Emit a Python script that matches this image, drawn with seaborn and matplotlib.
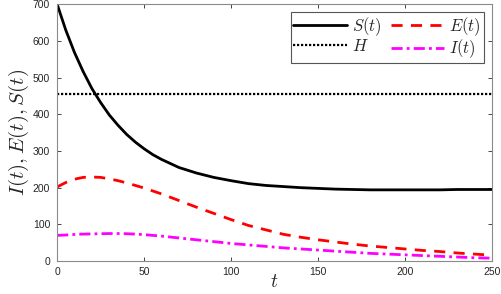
import numpy as np
import pandas as pd
import matplotlib
matplotlib.use("Agg")
import matplotlib.pyplot as plt
import seaborn as sns

# =========================================================
# DATA
# =========================================================

t = [0, 5, 10, 15, 20, 25, 30, 35, 40, 45, 50, 55, 60, 70, 80, 90, 100,
     110, 120, 130, 140, 150, 160, 170, 180, 190, 200, 210, 220, 230, 240, 250]

S = [700, 629, 568, 516, 470, 432, 398, 370, 345, 324, 306, 290, 277, 255,
     240, 228, 219, 211, 206, 203, 200, 198, 196, 195, 194, 194, 194, 194,
     194, 195, 195, 195]

E = [202, 214, 223, 228, 229, 228, 224, 219, 213, 206, 199, 191, 183, 165,
     147, 130, 113, 97, 85, 73, 65, 58, 52, 46, 41, 37, 33, 29, 26, 22, 19, 16]

I = [70, 71, 72.5, 73.5, 74, 74.5, 75, 75, 74.5, 73.5, 72, 70, 68, 63, 58,
     53, 48, 44, 40, 36, 33, 30, 27, 24, 21, 19, 17, 15, 13, 11, 9, 8]

H = 455

x_ticks = [0, 50, 100, 150, 200, 250]
y_ticks = [0, 100, 200, 300, 400, 500, 600, 700]


# =========================================================
# STYLE
# =========================================================

sns.set_style("ticks")
plt.rcParams["font.family"] = ["Liberation Sans", "DejaVu Sans"]
plt.rcParams["mathtext.fontset"] = "cm"
plt.rcParams["xtick.direction"] = "in"
plt.rcParams["ytick.direction"] = "in"

fig = plt.figure(figsize=(5.01, 2.94), dpi=100)
ax = fig.add_axes([0.114, 0.112, 0.868, 0.874])


# =========================================================
# PLOT
# =========================================================

sns.lineplot(x=t, y=S, ax=ax, color="black", lw=2, label="$S(t)$")
sns.lineplot(x=t, y=[H] * len(t), ax=ax, color="black", lw=1.6,
             linestyle=(0, (1, 0.8)), label="$H$")
sns.lineplot(x=t, y=E, ax=ax, color="#ff0000", lw=2,
             linestyle=(0, (4, 3)), label="$E(t)$")
sns.lineplot(x=t, y=I, ax=ax, color="#ff00ff", lw=2,
             linestyle=(0, (4, 1.5, 1, 1.5)), label="$I(t)$")

ax.set_xlim(0, 250)
ax.set_ylim(0, 700)
ax.set_xticks(x_ticks)
ax.set_yticks(y_ticks)

ax.tick_params(axis="both", which="both", top=True, right=True,
               labelsize=7.5, colors="#262626", length=3, width=0.6)
ax.tick_params(axis="y", pad=5)
ax.tick_params(axis="x", pad=4)

for spine in ax.spines.values():
    spine.set_visible(True)
    spine.set_color("#8a8a8a")
    spine.set_linewidth(0.8)

ax.set_xlabel("$t$", fontsize=14, labelpad=-2)
ax.set_ylabel("$I(t),E(t),S(t)$", fontsize=15, labelpad=1)

leg = ax.legend(ncol=2, loc="upper right", fontsize=12,
                frameon=True, fancybox=False, borderpad=0.15,
                handlelength=3.2, handletextpad=0.3, columnspacing=0.6,
                labelspacing=0.0, borderaxespad=0.5)
leg.get_frame().set_edgecolor("#555555")
leg.get_frame().set_linewidth(0.8)
leg.get_frame().set_alpha(1)

plt.savefig("out.png", dpi=100)
plt.close()
